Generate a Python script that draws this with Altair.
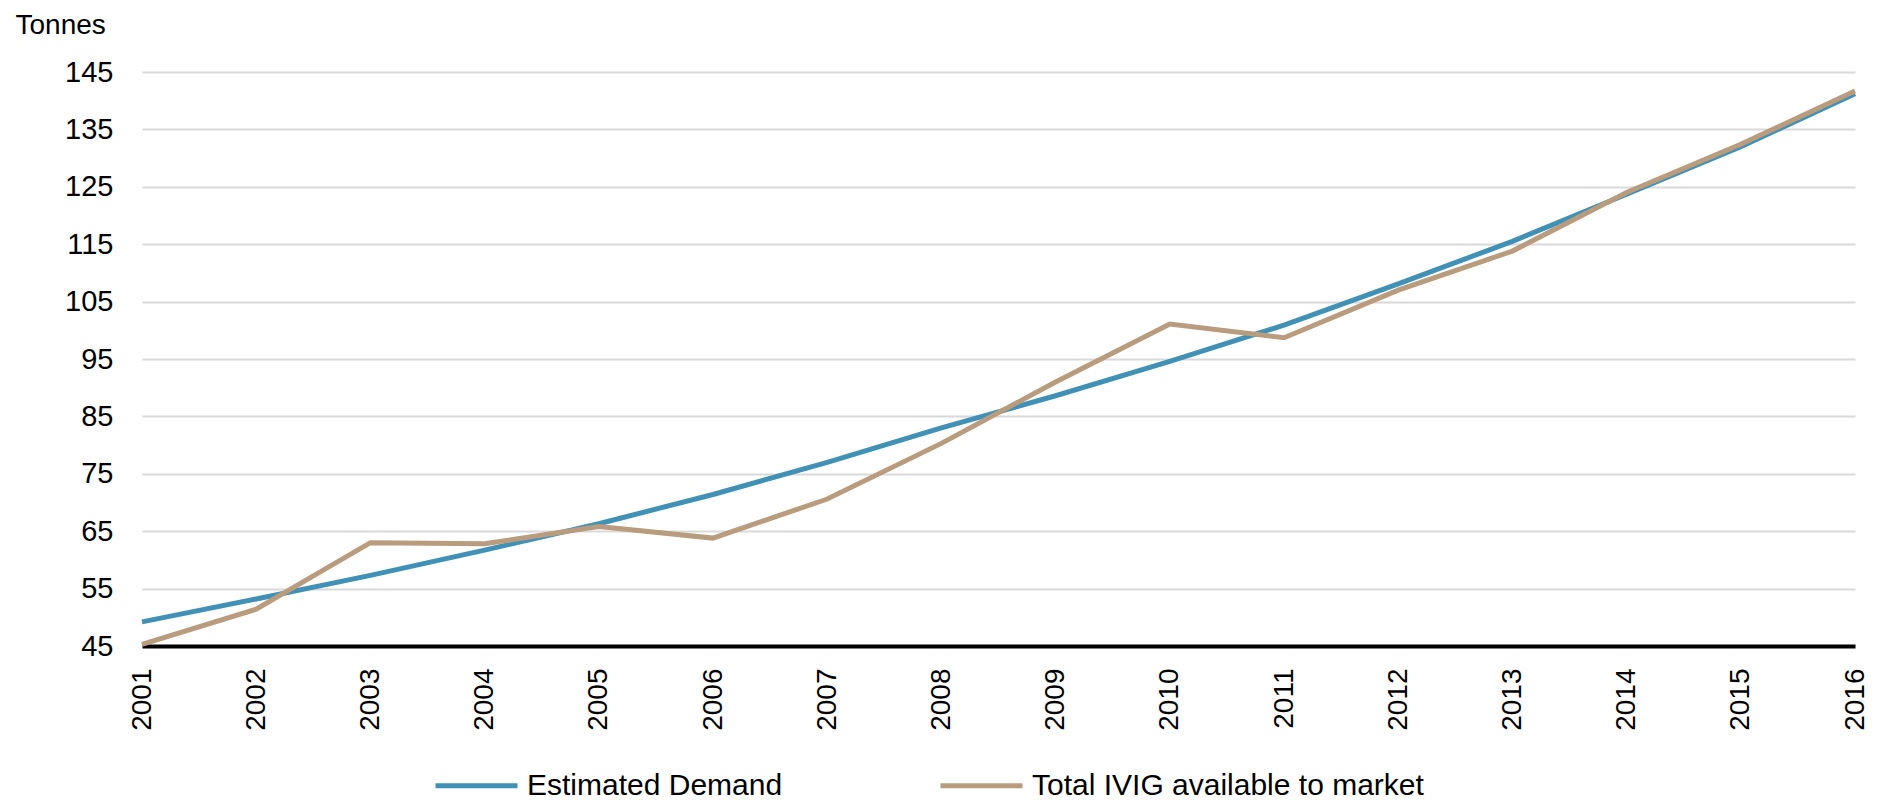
import altair as alt
import pandas as pd

years = list(range(2001, 2017))
demand = [49.2, 53.2, 57.3, 61.7, 66.3, 71.4, 77.0, 83.0, 88.6, 94.6, 100.9, 108.1, 115.5, 123.7, 132.0, 141.2]
ivig = [45.3, 51.4, 63.0, 62.8, 65.8, 63.8, 70.6, 80.3, 91.0, 101.1, 98.7, 107.0, 113.8, 124.0, 132.4, 141.7]
series = ["Estimated Demand", "Total IVIG available to market"]
colors = ["#4191b6", "#b89c7d"]
y_ticks = list(range(45, 146, 10))

df = pd.DataFrame({
    "year": years + years,
    "value": demand + ivig,
    "series": [series[0]] * len(years) + [series[1]] * len(years),
})

FONT = "Liberation Sans"

chart = alt.Chart(df).mark_line(strokeWidth=5).encode(
    x=alt.X(
        "year:Q",
        scale=alt.Scale(domain=[2001, 2016], nice=False, zero=False),
        axis=alt.Axis(
            values=years, format="d", labelAngle=270, labelAlign="right",
            labelBaseline="middle", labelPadding=22, ticks=False, grid=False,
            domainColor="black", domainWidth=4, labelFontSize=28, title=None,
            labelFlush=False, labelOverlap=False,
        ),
    ),
    y=alt.Y(
        "value:Q",
        scale=alt.Scale(domain=[45, 145], nice=False, zero=False),
        axis=alt.Axis(
            values=y_ticks, ticks=False, domain=False, gridColor="#d9d9d9",
            gridWidth=2, labelPadding=29, labelFontSize=29, title="Tonnes",
            titleAngle=0, titleAlign="left", titleBaseline="alphabetic",
            titleX=-127, titleY=-39, titleFontSize=28, titleFontWeight="normal",
        ),
    ),
    color=alt.Color(
        "series:N",
        scale=alt.Scale(domain=series, range=colors),
        legend=alt.Legend(
            title=None, orient="none", legendX=291, legendY=670,
            direction="horizontal", symbolType="stroke", symbolSize=6724,
            symbolStrokeWidth=5, labelFontSize=30, labelOffset=7, labelLimit=800,
            columnPadding=147, padding=0, labelFont=FONT, labelColor="black",
        ),
    ),
).properties(
    width=1713, height=574,
    padding={"left": 134, "top": 64, "right": 20, "bottom": 156},
    autosize=alt.AutoSizeParams(type="none"),
).configure_view(stroke=None).configure_axis(
    labelFont=FONT, titleFont=FONT, labelColor="black", titleColor="black",
)

chart.save("out.html", embed_options={"renderer": "svg", "actions": False})
